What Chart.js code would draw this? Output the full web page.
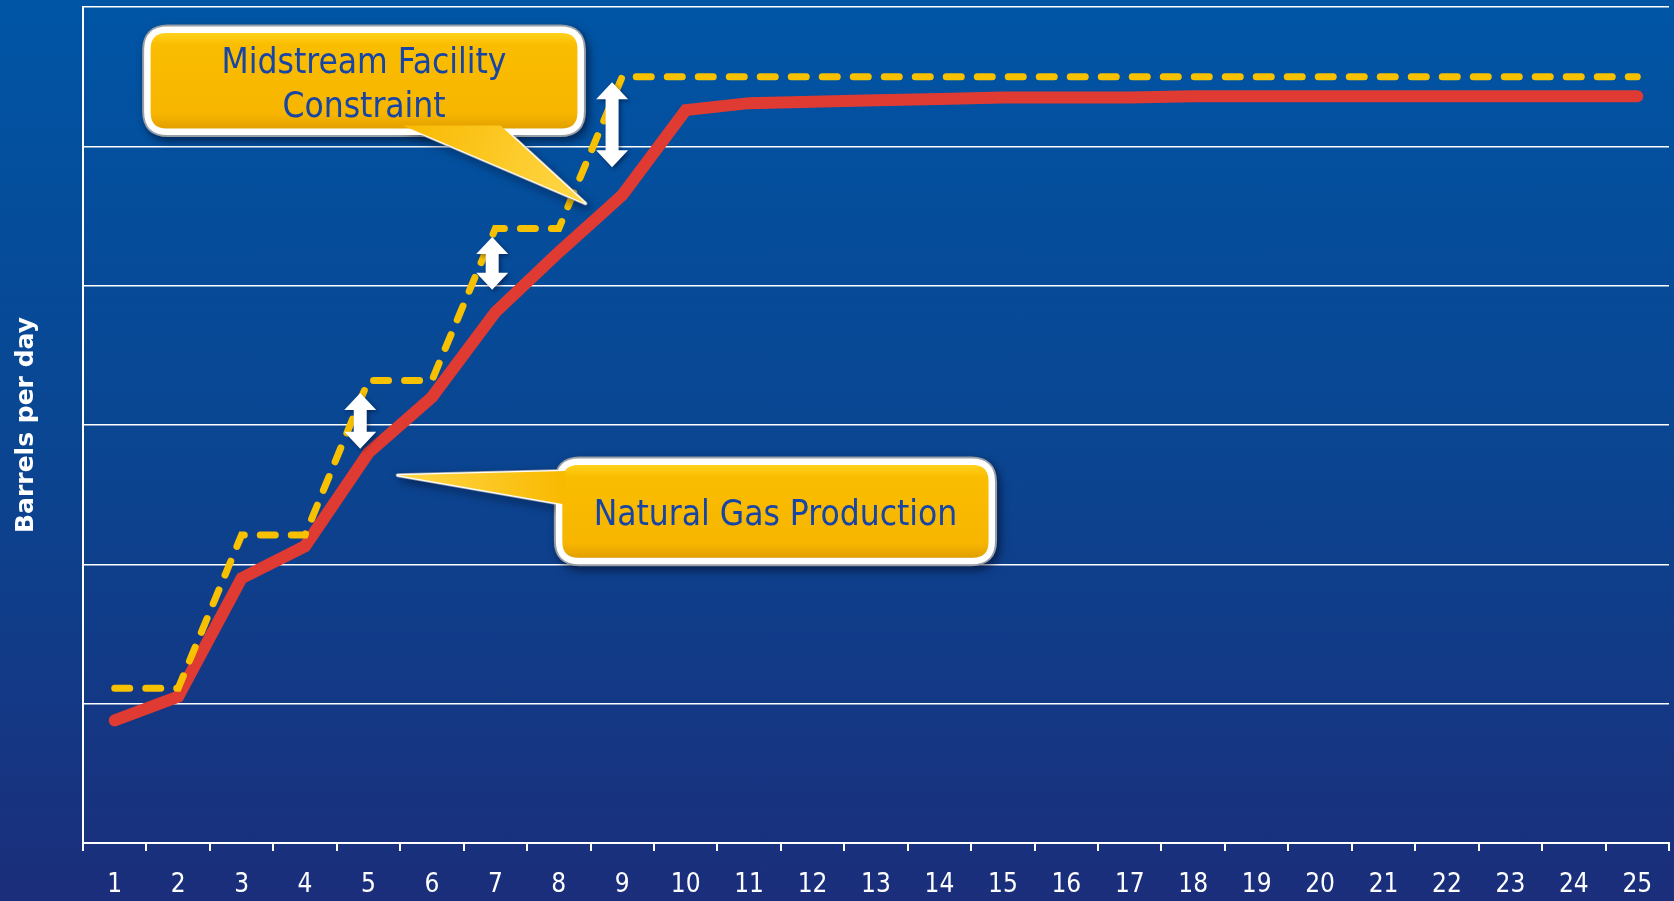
<!DOCTYPE html>
<html>
<head>
<meta charset="utf-8">
<script src="https://cdn.jsdelivr.net/npm/chart.js@4.4.1/dist/chart.umd.min.js"></script>
<style>
  html, body { margin: 0; padding: 0; }
  body {
    width: 1674px; height: 901px; overflow: hidden;
    background: linear-gradient(to bottom, #0055a5 0%, #0a4591 50%, #1b2e7b 100%);
  }
  #wrap { position: relative; width: 1674px; height: 901px; }
</style>
</head>
<body>
<div id="wrap"><canvas id="myChart" width="1674" height="901"></canvas></div>
<script>
// chart values
const categories = ['1','2','3','4','5','6','7','8','9','10','11','12','13','14','15','16','17','18','19','20','21','22','23','24','25'];
const production = [0.88, 1.05, 1.90, 2.13, 2.80, 3.20, 3.81, 4.24, 4.65, 5.26, 5.31, 5.32, 5.33, 5.34, 5.35, 5.35, 5.35, 5.36, 5.36, 5.36, 5.36, 5.36, 5.36, 5.36, 5.36];
const constraint = [1.11, 1.11, 2.21, 2.21, 3.32, 3.32, 4.41, 4.41, 5.50, 5.50, 5.50, 5.50, 5.50, 5.50, 5.50, 5.50, 5.50, 5.50, 5.50, 5.50, 5.50, 5.50, 5.50, 5.50, 5.50];
const yTicks = [0, 1, 2, 3, 4, 5, 6];

// double arrows (category index, value top, value bottom)
const arrowCats = [3.87, 5.95, 7.84];
const arrowTops = [3.23, 4.35, 5.46];
const arrowBottoms = [2.83, 3.97, 4.85];

// callouts, in category index / value units
const callouts = [
    {
        lines: ['Midstream Facility', 'Constraint'],
        x0: 0.44, x1: 7.42, yTop: 5.87, yBot: 5.07,
        tail: [[4.54, 5.15], [6.08, 5.15], [7.42, 4.59]]
    },
    {
        lines: ['Natural Gas Production'],
        x0: 6.93, x1: 13.9, yTop: 2.77, yBot: 1.99,
        tail: [[7.1, 2.67], [7.1, 2.43], [4.46, 2.64]]
    }
];

const WHITE = '#ffffff';

function roundRect(ctx, x, y, w, h, r) {
    ctx.beginPath();
    ctx.moveTo(x + r, y);
    ctx.lineTo(x + w - r, y);
    ctx.quadraticCurveTo(x + w, y, x + w, y + r);
    ctx.lineTo(x + w, y + h - r);
    ctx.quadraticCurveTo(x + w, y + h, x + w - r, y + h);
    ctx.lineTo(x + r, y + h);
    ctx.quadraticCurveTo(x, y + h, x, y + h - r);
    ctx.lineTo(x, y + r);
    ctx.quadraticCurveTo(x, y, x + r, y);
    ctx.closePath();
}

function tailPath(ctx, pts) {
    ctx.beginPath();
    ctx.moveTo(pts[0][0], pts[0][1]);
    for (let i = 1; i < pts.length; i++) ctx.lineTo(pts[i][0], pts[i][1]);
    ctx.closePath();
}

const annotations = {
    id: 'annotations',
    afterDatasetsDraw(chart) {
        const ctx = chart.ctx;
        const xs = chart.scales.x;
        const ys = chart.scales.y;

        // white double arrows
        for (let i = 0; i < arrowCats.length; i++) {
            const cx = xs.getPixelForValue(arrowCats[i]);
            const t = ys.getPixelForValue(arrowTops[i]);
            const b = ys.getPixelForValue(arrowBottoms[i]);
            const sw = 6.5, hw = 16, hl = 17;
            ctx.save();
            ctx.shadowColor = 'rgba(0,0,30,0.45)';
            ctx.shadowBlur = 4;
            ctx.shadowOffsetX = 2;
            ctx.shadowOffsetY = 2;
            ctx.fillStyle = WHITE;
            ctx.beginPath();
            ctx.moveTo(cx, t);
            ctx.lineTo(cx + hw, t + hl);
            ctx.lineTo(cx + sw, t + hl);
            ctx.lineTo(cx + sw, b - hl);
            ctx.lineTo(cx + hw, b - hl);
            ctx.lineTo(cx, b);
            ctx.lineTo(cx - hw, b - hl);
            ctx.lineTo(cx - sw, b - hl);
            ctx.lineTo(cx - sw, t + hl);
            ctx.lineTo(cx - hw, t + hl);
            ctx.closePath();
            ctx.fill();
            ctx.restore();
        }

        // callout boxes
        callouts.forEach(c => {
            const x0 = xs.getPixelForValue(c.x0);
            const x1 = xs.getPixelForValue(c.x1);
            const y0 = ys.getPixelForValue(c.yTop);
            const y1 = ys.getPixelForValue(c.yBot);
            const pts = c.tail.map(p => [xs.getPixelForValue(p[0]), ys.getPixelForValue(p[1])]);
            const w = x1 - x0, h = y1 - y0, r = 20;

            ctx.save();
            // shadow + grey rim
            ctx.shadowColor = 'rgba(0,0,20,0.55)';
            ctx.shadowBlur = 8;
            ctx.shadowOffsetX = 3;
            ctx.shadowOffsetY = 4;
            ctx.strokeStyle = '#9a9ea6';
            ctx.lineWidth = 11;
            ctx.lineJoin = 'round';
            roundRect(ctx, x0 + 5, y0 + 5, w - 10, h - 10, r);
            ctx.stroke();
            ctx.lineWidth = 4;
            tailPath(ctx, pts);
            ctx.stroke();
            ctx.restore();

            ctx.save();
            ctx.strokeStyle = WHITE;
            ctx.lineWidth = 7;
            ctx.lineJoin = 'round';
            roundRect(ctx, x0 + 5, y0 + 5, w - 10, h - 10, r);
            ctx.stroke();
            ctx.lineWidth = 2.5;
            tailPath(ctx, pts);
            ctx.stroke();

            const g = ctx.createLinearGradient(0, y0 + 8, 0, y1 - 8);
            g.addColorStop(0, '#ffd21c');
            g.addColorStop(0.12, '#fabd00');
            g.addColorStop(0.85, '#f7b500');
            g.addColorStop(1, '#e29f00');
            ctx.fillStyle = g;
            roundRect(ctx, x0 + 8, y0 + 8, w - 16, h - 16, r - 4);
            ctx.fill();
            const tg = ctx.createLinearGradient(pts[0][0], pts[0][1], pts[2][0], pts[2][1]);
            tg.addColorStop(0, '#f9b900');
            tg.addColorStop(1, '#ffd84a');
            ctx.fillStyle = tg;
            tailPath(ctx, pts);
            ctx.fill();

            // text
            ctx.fillStyle = '#1745a5';
            ctx.font = '35px "DejaVu Sans Condensed"';
            ctx.textAlign = 'center';
            ctx.textBaseline = 'middle';
            const lh = 44;
            const cx = (x0 + x1) / 2;
            const cy = (y0 + y1) / 2 + 5;
            c.lines.forEach((ln, i) => {
                ctx.fillText(ln, cx, cy + (i - (c.lines.length - 1) / 2) * lh);
            });
            ctx.restore();
        });
    }
};

const ctx = document.getElementById('myChart');
var mychart = new Chart(ctx, {
    type: 'line',
    data: {
        labels: categories,
        datasets: [
            {
                label: 'Midstream Facility Constraint',
                data: constraint,
                borderColor: '#f7c100',
                borderWidth: 7,
                borderDash: [15, 16],
                borderCapStyle: 'round',
                pointRadius: 0,
                tension: 0,
                fill: false
            },
            {
                label: 'Natural Gas Production',
                data: production,
                borderColor: '#e03b32',
                borderWidth: 12,
                borderCapStyle: 'round',
                borderJoinStyle: 'miter',
                pointRadius: 0,
                tension: 0,
                fill: false
            }
        ]
    },
    options: {
        responsive: false,
        maintainAspectRatio: false,
        animation: false,
        layout: { padding: { top: 7, right: 5, left: 0, bottom: 0 } },
        plugins: {
            legend: { display: false },
            tooltip: { enabled: false }
        },
        scales: {
            x: {
                offset: true,
                grid: {
                    offset: true,
                    drawOnChartArea: false,
                    drawTicks: true,
                    tickLength: 8,
                    color: WHITE,
                    lineWidth: 2
                },
                border: { color: WHITE, width: 2 },
                ticks: {
                    color: WHITE,
                    padding: 19,
                    maxRotation: 0,
                    autoSkip: false,
                    font: { family: 'DejaVu Sans Condensed', size: 26 }
                },
                afterFit(scale) { scale.height = 58; }
            },
            y: {
                min: yTicks[0],
                max: yTicks[yTicks.length - 1],
                afterBuildTicks(scale) { scale.ticks = yTicks.map(v => ({ value: v })); },
                ticks: { display: false },
                grid: { color: WHITE, lineWidth: 1.5, drawTicks: false },
                border: { color: WHITE, width: 2 },
                title: {
                    display: true,
                    text: 'Barrels per day',
                    color: WHITE,
                    padding: { top: 11, bottom: 0 },
                    font: { family: 'DejaVu Sans', weight: 'bold', size: 25 }
                },
                afterFit(scale) { scale.width = 83; }
            }
        }
    },
    plugins: [annotations]
});
</script>
</body>
</html>
